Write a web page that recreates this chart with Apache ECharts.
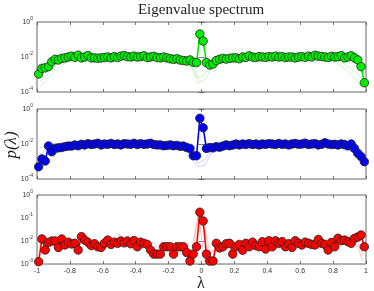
<!DOCTYPE html>
<html><head><meta charset="utf-8">
<script src="https://cdn.jsdelivr.net/npm/echarts@6/dist/echarts.min.js"></script>
<style>html,body{margin:0;padding:0;background:#fff}#c{width:374px;height:291px}</style>
</head><body><div id="c"></div>
<script>
// bin centres (lambda) for the plotted curves
const lam = [-0.99,-0.97,-0.95,-0.93,-0.91,-0.89,-0.87,-0.85,-0.83,-0.81,
-0.79,-0.77,-0.75,-0.73,-0.71,-0.69,-0.67,-0.65,-0.63,-0.61,
-0.59,-0.57,-0.55,-0.53,-0.51,-0.49,-0.47,-0.45,-0.43,-0.41,
-0.39,-0.37,-0.35,-0.33,-0.31,-0.29,-0.27,-0.25,-0.23,-0.21,
-0.19,-0.17,-0.15,-0.13,-0.11,-0.09,-0.07,-0.05,-0.03,-0.01,
0.01,0.03,0.05,0.07,0.09,0.11,0.13,0.15,0.17,0.19,
0.21,0.23,0.25,0.27,0.29,0.31,0.33,0.35,0.37,0.39,
0.41,0.43,0.45,0.47,0.49,0.51,0.53,0.55,0.57,0.59,
0.61,0.63,0.65,0.67,0.69,0.71,0.73,0.75,0.77,0.79,
0.81,0.83,0.85,0.87,0.89,0.91,0.93,0.95,0.97,0.99];
// bin centres for the faint individual trials
const lamTrial = [-0.98,-0.94,-0.90,-0.86,-0.82,-0.78,-0.74,-0.70,-0.66,-0.62,
-0.58,-0.54,-0.50,-0.46,-0.42,-0.38,-0.34,-0.30,-0.26,-0.22,
-0.18,-0.14,-0.10,-0.06,-0.02,0.02,0.06,0.10,0.14,0.18,
0.22,0.26,0.30,0.34,0.38,0.42,0.46,0.50,0.54,0.58,
0.62,0.66,0.70,0.74,0.78,0.82,0.86,0.90,0.94,0.98];

// log10 p(lambda)
const greenLog = [-2.97,-2.65,-2.62,-2.55,-2.27,-2.13,-2.17,-2.08,-2.05,-2.0,
-1.95,-2.02,-1.9,-2.05,-2.0,-1.92,-2.05,-2.05,-2.07,-2.05,
-2.03,-2.0,-2.05,-1.98,-2.03,-1.95,-1.92,-1.98,-2.0,-1.95,
-2.0,-1.98,-1.93,-2.03,-2.0,-1.96,-2.03,-2.05,-2.0,-2.05,
-2.1,-2.13,-2.1,-2.17,-2.2,-2.23,-2.17,-2.3,-2.32,-0.69,
-1.09,-2.32,-2.46,-2.4,-2.2,-2.13,-2.08,-2.12,-2.08,-2.05,
-2.05,-2.1,-2.0,-2.02,-1.93,-2.0,-2.03,-1.98,-2.0,-2.02,
-1.98,-2.0,-1.95,-2.0,-1.98,-2.03,-2.0,-2.0,-2.05,-2.0,
-1.98,-2.02,-1.95,-2.0,-1.9,-1.95,-1.97,-2.0,-2.03,-1.96,
-2.0,-1.98,-1.92,-2.05,-2.0,-1.93,-2.05,-2.17,-2.55,-3.47];
const greenTrialA = [-3.4,-3.0,-2.6,-2.3,-2.1,-2.05,
-2.02,-1.98,-2.05,-2.0,-1.97,-2.03,-2.0,-1.95,-2.02,-2.0,-2.05,-1.98,-2.0,-2.08,-2.1,-2.15,-2.2,-2.4,
-3.2,-3.0,-2.4,-2.2,
-2.1,-2.05,-2.0,-2.02,-1.98,-2.0,-2.03,-1.97,-2.0,-2.02,-1.98,-2.0,-1.96,-2.02,-2.0,-2.05,-2.1,
-2.2,-2.35,-2.6,-2.9,-3.3];
const greenTrialB = [-3.7,-3.3,-2.9,-2.55,-2.3,-2.15,
-2.05,-2.0,-1.97,-2.03,-2.0,-1.98,-2.05,-2.0,-1.97,-2.03,-2.0,-2.02,-2.08,-2.1,-2.12,-2.2,-2.35,-2.6,
-3.5,-3.3,-2.7,-2.3,
-2.15,-2.08,-2.03,-1.98,-2.02,-2.0,-1.97,-2.02,-2.0,-1.98,-2.03,-2.0,-2.02,-1.98,-2.05,-2.1,-2.2,
-2.35,-2.6,-2.9,-3.3,-3.8];

const blueLog = [-3.30,-2.85,-2.97,-2.11,-2.44,-2.25,-2.22,-2.2,-2.15,-2.12,
-2.12,-2.06,-2.1,-2.02,-2.05,-1.98,-2.03,-2.0,-1.96,-2.05,
-2.0,-2.02,-1.97,-2.03,-2.0,-2.05,-1.98,-2.0,-2.02,-1.96,
-2.03,-1.98,-2.02,-2.0,-1.96,-2.03,-2.05,-2.05,-2.1,-2.08,
-2.05,-2.1,-2.08,-2.13,-2.12,-2.2,-2.25,-2.67,-2.67,-0.53,
-1.07,-2.25,-2.2,-2.22,-2.15,-2.18,-2.12,-2.05,-2.1,-2.06,
-2.0,-2.05,-2.0,-2.03,-1.98,-2.03,-2.0,-2.05,-2.0,-2.02,
-1.98,-2.0,-2.03,-1.97,-2.02,-2.0,-2.05,-2.0,-1.97,-2.02,
-2.0,-1.95,-2.03,-2.0,-1.98,-2.05,-2.02,-1.93,-2.0,-2.03,
-2.02,-2.05,-2.0,-2.03,-2.1,-2.0,-2.25,-2.53,-2.72,-3.01];
const blueTrialA = [-2.6,-2.3,-2.2,-2.15,-2.1,
-2.05,-2.0,-2.03,-1.98,-2.02,-2.0,-1.97,-2.03,-2.0,-2.05,-1.98,-2.02,-2.0,-2.05,-2.1,-2.08,-2.15,-2.2,-2.5,
-3.1,-2.9,-2.3,-2.15,
-2.1,-2.05,-2.0,-2.02,-1.98,-2.0,-2.03,-1.97,-2.0,-2.02,-1.98,-2.0,-1.96,-2.02,-2.0,-2.05,-2.1,
-2.15,-2.2,-2.3,-2.45,-2.7];
const blueTrialB = [-2.2,-2.1,-2.0,-2.05,-2.0,
-1.98,-2.03,-2.0,-2.05,-1.97,-2.02,-2.0,-2.05,-1.98,-2.0,-2.03,-2.0,-2.05,-2.08,-2.12,-2.1,-2.2,-2.3,-2.8,
-3.3,-3.2,-2.5,-2.2,
-2.08,-2.03,-2.0,-1.97,-2.02,-2.0,-2.05,-1.98,-2.02,-2.0,-1.97,-2.03,-2.0,-1.98,-2.05,-2.08,-2.15,
-2.2,-2.3,-2.4,-2.55,-2.9];

const redLog = [-2.90,-1.91,-2.39,-2.06,-2.0,-2.0,-2.28,-1.91,-2.17,-2.05,
-2.13,-2.1,-2.39,-1.81,-1.96,-2.06,-2.2,-2.12,-2.25,-2.28,
-2.1,-1.96,-2.15,-2.05,-2.1,-2.0,-2.08,-2.0,-2.12,-1.98,
-2.25,-2.05,-2.1,-2.15,-2.39,-2.57,-2.57,-2.57,-2.25,-2.25,
-2.25,-2.57,-2.25,-2.25,-2.25,-2.5,-2.87,-2.57,-2.25,-0.75,
-1.13,-2.57,-2.87,-2.87,-2.1,-2.3,-2.25,-2.12,-2.1,-2.57,
-2.25,-2.15,-2.4,-2.1,-2.25,-2.05,-2.2,-2.25,-2.03,-2.35,
-1.99,-2.25,-1.99,-2.1,-2.03,-2.25,-2.12,-2.28,-1.99,-2.1,
-2.17,-2.05,-2.1,-2.15,-2.17,-1.93,-2.1,-2.15,-2.39,-2.07,
-2.25,-1.88,-1.99,-1.96,-2.03,-2.1,-1.88,-1.83,-1.74,-2.25];
const redTrialA = [-2.5,-1.9,-2.1,-1.95,-2.2,-1.9,-2.05,-1.85,-2.2,-2.0,
-1.9,-2.15,-1.7,-2.1,-1.95,-2.2,-2.05,-2.3,-2.5,-2.2,
-2.6,-2.3,-2.7,-2.4,-0.9,-1.5,-2.8,-2.4,-2.2,-2.5,
-2.1,-2.3,-2.0,-2.2,-1.95,-2.15,-2.0,-1.8,-2.2,-2.0,
-2.1,-1.9,-2.15,-2.0,-1.85,-2.1,-1.95,-1.85,-1.9,-2.6];
const redTrialB = [-2.0,-2.2,-1.95,-2.1,-2.0,-2.15,-1.9,-2.1,-1.95,-2.15,
-2.05,-1.9,-2.05,-1.95,-2.15,-2.0,-2.2,-2.05,-2.3,-2.45,
-2.2,-2.5,-2.3,-2.9,-0.8,-2.9,-2.5,-2.2,-2.4,-2.15,
-2.2,-2.05,-2.25,-2.0,-2.1,-1.9,-2.15,-2.05,-1.95,-2.15,
-1.95,-2.1,-1.95,-2.1,-2.0,-1.9,-2.05,-1.8,-2.0,-2.9];

const xTickLabels = ['-1','-0.8','-0.6','-0.4','-0.2','0','0.2','0.4','0.6','0.8','1'];
const yRange = [[-4,0,2],[-4,0,2],[-3,0,1]]; // [minExp, maxExp, stepExp]

const pts = (xs, ls) => xs.map((x,i)=>[x, Math.pow(10, ls[i])]);

const panels = [
  {top:22, h:70, main:greenLog, trials:[greenTrialA,greenTrialB], col:'#00ee00', faint:'rgba(120,235,120,0.45)'},
  {top:109, h:70, main:blueLog, trials:[blueTrialA,blueTrialB], col:'#0000ff', faint:'rgba(140,150,255,0.45)'},
  {top:195, h:69, main:redLog, trials:[redTrialA,redTrialB], col:'#ff0000', faint:'rgba(255,140,140,0.5)'}
];

const grid=[], xAxis=[], yAxis=[], series=[];
const tickStyle = {show:true, inside:true, length:3, lineStyle:{color:'#555', width:0.8}};
panels.forEach((p,k)=>{
  grid.push({left:37, right:8, top:p.top, height:p.h, show:true, borderColor:'#666', borderWidth:1, backgroundColor:'#fff'});
  const isLast = k===2;
  xAxis.push({type:'value', gridIndex:k, min:-1, max:1, interval:0.2, position:'bottom',
    axisLine:{show:false}, axisTick:tickStyle, splitLine:{show:false},
    axisLabel:{show:isLast, fontSize:7, color:'#333', fontFamily:'Liberation Sans', margin:4,
      formatter:v=>xTickLabels[Math.round((v+1)*5)]}});
  xAxis.push({type:'value', gridIndex:k, min:-1, max:1, interval:0.2, position:'top',
    axisLine:{show:false}, axisTick:tickStyle, splitLine:{show:false}, axisLabel:{show:false}});
  const r = yRange[k];
  const yBase = {type:'log', logBase:10, gridIndex:k, min:Math.pow(10,r[0]), max:Math.pow(10,r[1]), interval:r[2],
    axisLine:{show:false}, axisTick:tickStyle, splitLine:{show:false}};
  yAxis.push(Object.assign({}, yBase, {position:'left',
    axisLabel:{show:true, margin:4, color:'#333',
      formatter:v=>'{b|10}{s|'+Math.round(Math.log10(v))+'}',
      rich:{b:{fontSize:7, fontFamily:'Liberation Sans', color:'#333'},
            s:{fontSize:5, fontFamily:'Liberation Sans', color:'#333', verticalAlign:'bottom', padding:[0,0,6,0]}}}}));
  yAxis.push(Object.assign({}, yBase, {position:'right', axisLabel:{show:false}}));
  p.trials.forEach(t=>{
    series.push({type:'line', xAxisIndex:2*k, yAxisIndex:2*k, data:pts(lamTrial,t), symbol:'none',
      lineStyle:{color:p.faint, width:1}, silent:true, z:1, animation:false});
  });
  series.push({type:'line', xAxisIndex:2*k, yAxisIndex:2*k, data:pts(lam,p.main), symbol:'circle', symbolSize:8.5,
    lineStyle:{color:p.col, width:1.6}, itemStyle:{color:p.col, borderColor:'#222', borderWidth:0.8},
    z:3, animation:false});
});

const chart = echarts.init(document.getElementById('c'), null, {renderer:'canvas'});
chart.setOption({
  animation:false,
  grid, xAxis, yAxis, series,
  graphic:[
    {type:'text', x:201, y:10, style:{text:'Eigenvalue spectrum', font:'15px "Liberation Serif"', fill:'#222', align:'center', verticalAlign:'middle'}},
    {type:'text', x:12, y:145, rotation:Math.PI/2, style:{text:'p(λ)', font:'italic 17px "Liberation Serif"', fill:'#222', align:'center', verticalAlign:'middle'}},
    {type:'text', x:201, y:284, style:{text:'λ', font:'16px "Liberation Serif"', fill:'#222', align:'center', verticalAlign:'middle'}}
  ]
});
</script></body></html>
